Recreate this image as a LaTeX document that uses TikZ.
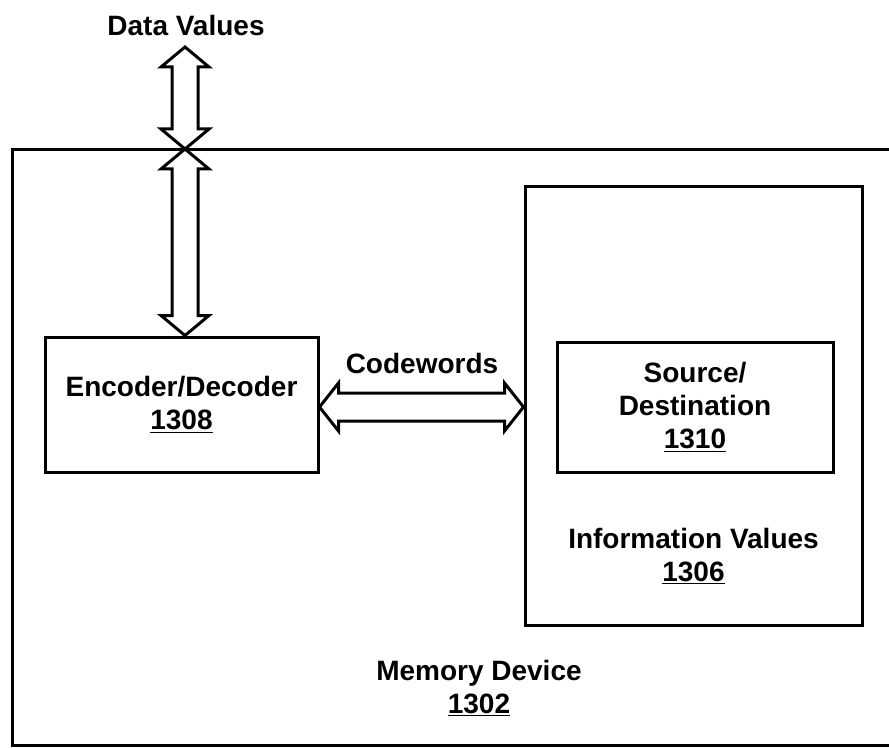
\documentclass[tikz,border=0pt]{standalone}
\usepackage{fontspec}
\setmainfont{Liberation Sans}
\usetikzlibrary{calc}
\tikzset{
  box/.style={draw, line width=3pt, rectangle, inner sep=0pt},
  lbl/.style={font=\fontsize{28}{33}\selectfont\bfseries, align=center, inner sep=0pt},
  blockarrow/.style={draw, line width=3pt, line join=miter, fill=white},
}
\begin{document}
\begin{tikzpicture}[x=1pt,y=-1pt]
\useasboundingbox (0,0) rectangle (889,749);
% outer memory device box (right edge beyond picture)
\draw[line width=3pt] (889,150) -- (12,150) -- (12,745) -- (889,745);
% nodes
\node[lbl] (dv) at (186,25) {Data Values};
\node[box, minimum width=273pt, minimum height=135pt] (enc) at (181.5,404.5) {};
\node[lbl] (enclbl) at (enc.center) {Encoder/Decoder\\\underline{1308}};
\node[box, minimum width=337pt, minimum height=439pt] (info) at (693.5,405.5) {};
\node[box, minimum width=276pt, minimum height=130pt] (src) at (695,407) {};
\node[lbl] (srclbl) at (src.center) {Source/\\Destination\\\underline{1310}};
\node[lbl] (infolbl) at (693.5,556) {Information Values\\\underline{1306}};
\node[lbl] (memlbl) at (479,688) {Memory Device\\\underline{1302}};
\node[lbl] (cw) at (422,363) {Codewords};
\coordinate (dvtip) at (185,47);
\coordinate (cross) at (185,149);
% vertical double arrow above the device
\draw[blockarrow] let \p1=(dvtip), \p2=(cross) in
  (\x1,\y1) -- (\x1+24pt,\y1-20pt) -- (\x1+13pt,\y1-20pt) -- (\x1+13pt,\y2+20pt)
  -- (\x1+24pt,\y2+20pt) -- (\x1,\y2) -- (\x1-24pt,\y2+20pt) -- (\x1-13pt,\y2+20pt)
  -- (\x1-13pt,\y1-20pt) -- (\x1-24pt,\y1-20pt) -- cycle;
% vertical double arrow into encoder
\draw[blockarrow] let \p1=(cross), \p2=(enc.north -| cross) in
  (\x1,\y1) -- (\x1+24pt,\y1-20pt) -- (\x1+13pt,\y1-20pt) -- (\x1+13pt,\y2+20pt)
  -- (\x1+24pt,\y2+20pt) -- (\x1,\y2) -- (\x1-24pt,\y2+20pt) -- (\x1-13pt,\y2+20pt)
  -- (\x1-13pt,\y1-20pt) -- (\x1-24pt,\y1-20pt) -- cycle;
% codewords double arrow
\draw[blockarrow] let \p1=(enc.east |- src.west), \p2=(info.west |- src.west) in
  (\x1,\y1) -- (\x1+19pt,\y1+24pt) -- (\x1+19pt,\y1+14pt) -- (\x2-19pt,\y1+14pt)
  -- (\x2-19pt,\y1+24pt) -- (\x2,\y1) -- (\x2-19pt,\y1-24pt) -- (\x2-19pt,\y1-14pt)
  -- (\x1+19pt,\y1-14pt) -- (\x1+19pt,\y1-24pt) -- cycle;
\end{tikzpicture}
\end{document}
